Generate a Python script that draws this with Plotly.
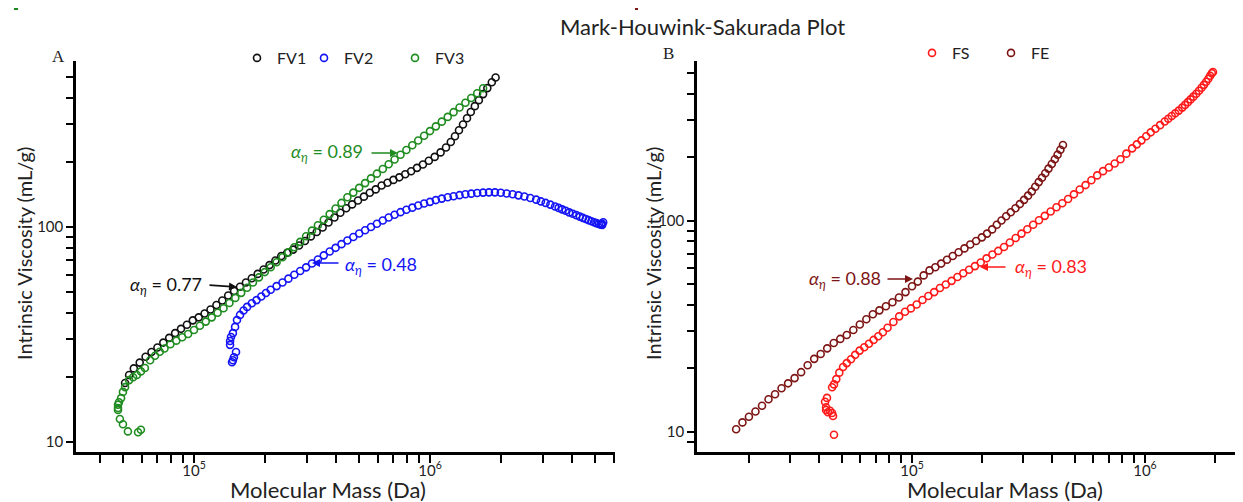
import plotly.graph_objects as go

# ---------------- data ----------------
fv1_mass = [51050, 53090, 55590, 58880, 62370, 66070, 69980, 74130, 78520, 83180,
            88100, 93330, 98860, 104700, 110900, 117500, 124500, 131800, 139600, 147900,
            156700, 166000, 175800, 186200, 197200, 208900, 221300, 234400, 248300, 263000,
            278600, 295100, 312600, 331100, 350800, 371500, 393600, 416900, 441600, 467700,
            495500, 524800, 555900, 588800, 623700, 660700, 699800, 741300, 785200, 831800,
            881000, 933300, 988600, 1047000, 1109000, 1169000, 1225000, 1276000, 1327000, 1380000,
            1435000, 1489000, 1549000, 1611000, 1679000, 1750000, 1828000, 1897000]
fv1_visc = [18.8, 20.5, 22.0, 23.4, 24.9, 26.2, 27.5, 29.0, 30.5, 32.1,
            33.6, 35.1, 36.8, 38.0, 39.6, 41.3, 43.4, 45.5, 48.0, 50.4,
            52.7, 55.2, 57.8, 60.5, 63.4, 66.5, 69.8, 73.3, 75.9, 78.5,
            82.0, 86.1, 90.4, 94.8, 99.5, 105.0, 110.7, 116.4, 122.2, 127.4,
            132.7, 138.4, 144.2, 149.6, 156.0, 160.7, 165.6, 170.2, 175.8, 181.6,
            188.4, 195.4, 203.2, 211.8, 222.3, 234.4, 248.3, 264.2, 281.8, 299.9,
            320.6, 342.8, 364.8, 389.0, 415.0, 442.6, 471.0, 495.5]

fv2_mass = [144900, 146200, 147600, 150700, 142200, 142200, 143500, 146200, 149300, 152100,
            156700, 162200, 167900, 175800, 184100, 192800, 201800, 211300, 223900, 237100,
            251200, 266100, 281800, 298500, 316200, 335000, 354800, 375800, 398100, 421700,
            446700, 473200, 501200, 530900, 562300, 595700, 631000, 668300, 707900, 749900,
            794300, 841400, 891300, 944100, 1000000, 1059000, 1122000, 1189000, 1259000, 1334000,
            1413000, 1496000, 1585000, 1679000, 1778000, 1884000, 1995000, 2113000, 2239000, 2371000,
            2512000, 2661000, 2818000, 2951000, 3090000, 3236000, 3388000, 3508000, 3631000, 3758000,
            3890000, 4027000, 4169000, 4315000, 4446000, 4571000, 4699000, 4831000, 4955000, 5070000,
            5188000, 5297000, 5370000, 5420000, 5346000]
fv2_visc = [23.5, 24.0, 24.8, 26.2, 28.3, 29.5, 30.8, 32.1, 34.3, 36.9,
            39.0, 40.9, 42.5, 44.2, 45.7, 47.5, 49.3, 51.1, 53.1, 55.2,
            57.5, 60.0, 62.4, 64.9, 67.6, 70.6, 73.8, 76.9, 80.0, 83.2,
            86.5, 89.9, 93.3, 96.6, 100.0, 103.5, 107.2, 110.7, 114.0, 117.2,
            120.2, 123.0, 125.9, 128.5, 130.9, 133.4, 135.5, 137.4, 139.0, 140.6,
            141.9, 142.9, 143.9, 144.5, 144.9, 144.9, 144.2, 143.2, 141.9, 140.3,
            138.7, 136.5, 134.0, 131.5, 129.4, 127.1, 124.5, 122.7, 120.8, 118.9,
            116.9, 115.3, 113.5, 111.7, 110.2, 108.9, 107.6, 106.4, 105.2, 104.2,
            103.3, 102.6, 102.3, 105.2, 103.8]

fv3_mass = [59570, 57940, 52480, 50000, 48530, 47640, 47640, 47640, 48080, 49090,
            50000, 51050, 53090, 55210, 57280, 59570, 61940, 65160, 68390, 71610,
            74990, 79430, 84140, 89130, 94410, 100000, 105900, 112200, 118900, 125900,
            133400, 141300, 149600, 158500, 167900, 177800, 188400, 199500, 211300, 223900,
            237100, 251200, 266100, 281800, 298500, 316200, 335000, 354800, 375800, 398100,
            421700, 446700, 473200, 501200, 530900, 562300, 595700, 631000, 668300, 707900,
            749900, 794300, 841400, 891300, 944100, 1000000, 1059000, 1122000, 1189000, 1259000,
            1334000, 1413000, 1496000, 1585000, 1679000]
fv3_visc = [11.4, 11.1, 11.2, 12.1, 12.8, 14.1, 14.4, 14.9, 15.3, 16.0,
            17.1, 18.0, 19.4, 20.0, 20.5, 21.3, 22.1, 24.0, 25.2, 26.3,
            27.2, 28.5, 29.6, 30.7, 31.8, 33.2, 34.7, 36.3, 38.0, 39.9,
            41.9, 44.3, 46.8, 49.4, 52.2, 55.2, 58.3, 61.7, 65.0, 68.5,
            72.3, 76.2, 80.5, 85.3, 90.6, 96.2, 101.9, 108.1, 114.8, 121.9,
            129.4, 137.4, 144.5, 152.1, 160.0, 168.3, 177.0, 186.2, 195.9, 206.1,
            216.8, 228.0, 239.9, 252.3, 265.5, 279.3, 293.8, 309.0, 325.1, 342.0,
            359.7, 378.4, 398.1, 418.8, 441.6]

fs_mass = [43150, 42340, 42760, 43550, 45370, 45810, 46240, 42760, 44460, 45390,
           46240, 47320, 48750, 50580, 52480, 54700, 57020, 59570, 62370, 65310,
           68390, 71610, 74990, 78520, 83180, 88100, 93330, 98860, 104700, 110900,
           117500, 124500, 131800, 139600, 147900, 156700, 166000, 175800, 186200, 197200,
           208900, 221300, 234400, 248300, 263000, 278600, 295100, 312600, 331100, 350800,
           371500, 393600, 416900, 441600, 467700, 495500, 524800, 555900, 588800, 623700,
           660700, 699800, 741300, 785200, 831800, 881000, 922600, 966100, 1012000, 1059000,
           1109000, 1161000, 1216000, 1259000, 1303000, 1349000, 1396000, 1445000, 1486000, 1528000,
           1570000, 1614000, 1660000, 1706000, 1750000, 1791000, 1832000, 1871000, 1905000, 1936000,
           1959000]
fs_visc = [14.5, 13.9, 13.1, 12.4, 12.3, 11.9, 9.7, 12.7, 12.6, 16.3,
           16.8, 17.8, 19.1, 20.3, 21.2, 22.1, 23.2, 24.3, 25.2, 26.2,
           27.3, 28.4, 29.7, 31.2, 33.2, 35.3, 37.1, 38.5, 40.2, 42.2,
           44.1, 46.0, 48.1, 50.0, 52.0, 54.2, 56.5, 58.7, 61.1, 63.5,
           66.5, 69.3, 72.1, 75.3, 79.1, 83.0, 87.1, 91.4, 95.9, 100.7,
           105.7, 110.9, 116.1, 121.3, 127.1, 133.7, 140.9, 147.9, 156.0, 164.4,
           172.2, 179.1, 187.1, 195.9, 208.4, 220.8, 230.7, 241.0, 251.8, 263.0,
           273.5, 284.4, 295.8, 304.8, 314.1, 323.6, 333.4, 344.4, 354.8, 365.6,
           376.7, 388.2, 400.9, 414.0, 427.6, 441.6, 457.1, 472.1, 487.5, 501.2,
           508.2]

fe_mass = [17580, 18710, 19950, 21280, 22700, 24210, 25820, 27540, 29380, 31330,
           33420, 35650, 38020, 40550, 43250, 46130, 49200, 52480, 55980, 59700,
           63680, 67920, 72440, 77270, 82410, 87900, 93760, 100000, 105900, 112200,
           118900, 125900, 133400, 141300, 149600, 158500, 167900, 177800, 188400, 199500,
           209900, 220800, 231200, 242100, 253500, 265500, 278000, 290400, 302700, 314800,
           326600, 338100, 349900, 361400, 373300, 385500, 398100, 410200, 421700, 433500,
           444600]
fe_visc = [10.3, 11.1, 11.8, 12.5, 13.3, 14.3, 15.1, 16.1, 17.0, 18.0,
           19.2, 20.7, 22.2, 23.4, 24.9, 26.4, 27.6, 28.8, 30.4, 32.3,
           34.2, 36.1, 37.7, 39.4, 41.2, 43.4, 46.0, 49.0, 51.6, 55.2,
           58.3, 60.3, 62.8, 65.5, 68.2, 71.1, 74.1, 77.3, 80.4, 83.6,
           87.1, 91.2, 95.9, 100.5, 105.2, 109.9, 114.8, 120.2, 125.9, 131.8,
           138.0, 145.2, 152.8, 160.3, 168.3, 177.0, 186.2, 195.9, 206.1, 217.3,
           229.1]

# tick values
major_x_vals = [1e5, 1e6]
major_x_text = ["10<sup>5</sup>", "10<sup>6</sup>"]
major_y_vals = [10, 100]
major_y_text = ["10", "100"]
minor_xa = [4e4, 5e4, 6e4, 7e4, 8e4, 9e4, 2e5, 3e5, 4e5, 5e5, 6e5, 7e5, 8e5, 9e5,
            2e6, 3e6, 4e6, 5e6, 6e6]
minor_xb = [2e4, 3e4, 4e4, 5e4, 6e4, 7e4, 8e4, 9e4, 2e5, 3e5, 4e5, 5e5, 6e5, 7e5, 8e5, 9e5, 2e6]
minor_ya = [20, 30, 40, 50, 60, 70, 80, 90, 200, 300, 400, 500]
minor_yb = [9, 20, 30, 40, 50, 60, 70, 80, 90, 200, 300, 400, 500]

# ---------------- style ----------------
# the page body has an 8px margin, so the figure is drawn 8px smaller and
# reference pixel positions are shifted by that offset
OFF = 8
W, H = 1243 - OFF, 502 - OFF
BLACK = "#111111"
BLUE = "#1414f5"
GREEN = "#1f8c1f"
RED = "#ff1a1a"
DRED = "#7d1414"
FONT = "Lato"


def px(x):
    return (x - OFF) / W


def py(y):
    return 1 - (y - OFF) / H


fig = go.Figure()


def add(mass, visc, name, color, xa, ya, leg):
    fig.add_trace(go.Scatter(
        x=mass, y=visc, mode="markers", name=name, xaxis=xa, yaxis=ya, legend=leg,
        showlegend=True,
        marker=dict(symbol="circle-open", size=7, color=color, line=dict(width=1.6, color=color)),
    ))


add(fv1_mass, fv1_visc, "FV1", BLACK, "x", "y", "legend")
add(fv2_mass, fv2_visc, "FV2", BLUE, "x", "y", "legend2")
add(fv3_mass, fv3_visc, "FV3", GREEN, "x", "y", "legend3")
add(fs_mass, fs_visc, "FS", RED, "x2", "y2", "legend4")
add(fe_mass, fe_visc, "FE", DRED, "x2", "y2", "legend5")


def xaxis(domain, rng, minor_vals, anchor):
    return dict(
        type="log", domain=domain, range=rng, anchor=anchor,
        showline=True, linecolor="black", linewidth=2.5, mirror=False,
        showgrid=False, zeroline=False,
        ticks="outside", ticklen=8, tickwidth=2, tickcolor="black",
        tickmode="array", tickvals=major_x_vals, ticktext=major_x_text,
        ticklabelstandoff=-5,
        tickfont=dict(family=FONT, size=15, color="#222"),
        minor=dict(tickmode="array", tickvals=minor_vals, ticks="outside",
                   ticklen=8, tickwidth=2, tickcolor="black", showgrid=False),
    )


def yaxis(domain, rng, minor_vals, anchor):
    return dict(
        type="log", domain=domain, range=rng, anchor=anchor,
        showline=True, linecolor="black", linewidth=2.5, mirror=False,
        showgrid=False, zeroline=False,
        ticks="outside", ticklen=7, tickwidth=2, tickcolor="black",
        tickmode="array", tickvals=major_y_vals, ticktext=major_y_text,
        tickfont=dict(family=FONT, size=15, color="#222"),
        minor=dict(tickmode="array", tickvals=minor_vals, ticks="outside",
                   ticklen=7, tickwidth=2, tickcolor="black", showgrid=False),
    )


ydom = [py(452), py(61)]
fig.update_layout(
    width=W, height=H, margin=dict(l=0, r=0, t=0, b=0),
    paper_bgcolor="white", plot_bgcolor="white",
    font=dict(family=FONT, color="#222"),
    showlegend=True,
    xaxis=xaxis([px(76), px(615)], [4.50, 6.784], minor_xa, "y"),
    yaxis=yaxis(ydom, [0.9535, 2.772], minor_ya, "x"),
    xaxis2=xaxis([px(697), px(1240)], [4.077, 6.408], minor_xb, "y2"),
    yaxis2=yaxis(ydom, [0.905, 2.758], minor_yb, "x2"),
)

leg_common = dict(orientation="h", xanchor="left", yanchor="middle", visible=True,
                  bgcolor="rgba(0,0,0,0)", borderwidth=0,
                  font=dict(family=FONT, size=16, color="#222"))
fig.update_layout(
    legend=dict(x=px(257 - 20), y=py(58), **leg_common),
    legend2=dict(x=px(324 - 20), y=py(58), **leg_common),
    legend3=dict(x=px(415 - 20), y=py(58), **leg_common),
    legend4=dict(x=px(932 - 20), y=py(53), **leg_common),
    legend5=dict(x=px(1011 - 20), y=py(53), **leg_common),
)

ann = []


def text(x, y, s, size=17, color="#222", family=FONT, angle=0):
    ann.append(dict(x=px(x), y=py(y), xref="paper", yref="paper", text=s, showarrow=False,
                    font=dict(family=family, size=size, color=color), textangle=angle,
                    xanchor="center", yanchor="middle"))


def arrow(x_tail, y_tail, x_head, y_head, color):
    ann.append(dict(x=px(x_head), y=py(y_head), xref="paper", yref="paper", text="",
                    showarrow=True, ax=x_tail - x_head, ay=y_tail - y_head,
                    arrowhead=2, arrowsize=1, arrowwidth=1.6, arrowcolor=color, standoff=0))


# title, panel letters, axis titles
text(702, 27, "Mark-Houwink-Sakurada Plot", size=22)
text(58, 56, "A", size=17, family="Liberation Serif")
text(668, 53, "B", size=17, family="Liberation Serif")
text(328, 489, "Molecular Mass (Da)", size=22)
text(1005, 489, "Molecular Mass (Da)", size=22)
text(24, 254, "Intrinsic Viscosity (mL/g)", size=20, angle=-90)
text(653, 254, "Intrinsic Viscosity (mL/g)", size=20, angle=-90)

# exponent annotations
alpha = "<i>α</i><sub><i>η</i></sub> = "
text(166, 285, alpha + "0.77", size=18, color=BLACK)
arrow(208, 285, 237, 287, BLACK)
text(381, 265, alpha + "0.48", size=18, color=BLUE)
arrow(340, 263, 312, 263, BLUE)
text(327, 153, alpha + "0.89", size=18, color=GREEN)
arrow(370, 153, 398, 153, GREEN)
text(845, 279, alpha + "0.88", size=18, color=DRED)
arrow(886, 279, 913, 279, DRED)
text(1051, 267, alpha + "0.83", size=18, color=RED)
arrow(1007, 267, 980, 267, RED)

fig.update_layout(annotations=ann)

# tiny stray marks at the top of each panel in the original
fig.update_layout(shapes=[
    dict(type="line", xref="paper", yref="paper", x0=px(14), x1=px(18), y0=py(9), y1=py(9),
         line=dict(color=GREEN, width=2)),
    dict(type="line", xref="paper", yref="paper", x0=px(635), x1=px(638), y0=py(9), y1=py(9),
         line=dict(color=DRED, width=2)),
])

fig.write_html("out.html")
